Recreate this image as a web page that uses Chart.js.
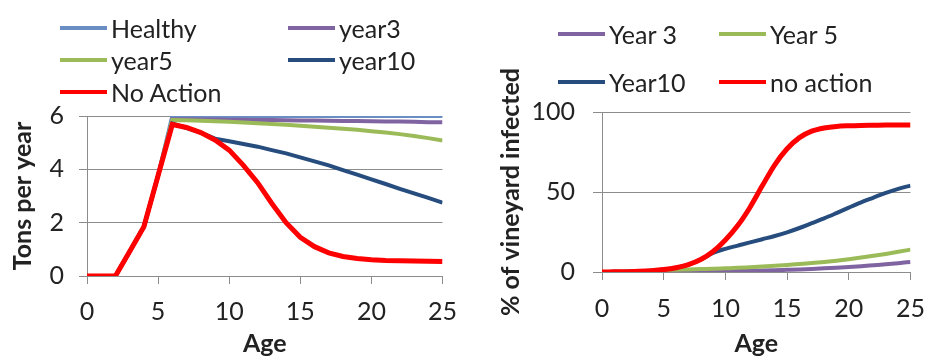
<!DOCTYPE html>
<html>
<head>
<meta charset="utf-8">
<script src="https://cdn.jsdelivr.net/npm/chart.js@4/dist/chart.umd.min.js"></script>
<style>
  body { margin: 0; background: #fff; }
  #wrap { position: relative; width: 939px; height: 356px; overflow: hidden; font-family: Lato, sans-serif; }
  canvas { position: absolute; top: 0; }
  .leg { position: absolute; height: 30px; display: flex; align-items: center; font-size: 25px; color: #222; white-space: nowrap; }
  .leg span.sw { display: inline-block; width: 47px; height: 4px; margin-right: 4px; }
</style>
</head>
<body>
<div id="wrap">
  <canvas id="tonsChart" width="470" height="356" style="left:0"></canvas>
  <canvas id="infectChart" width="469" height="356" style="left:470px"></canvas>
</div>
<script>
// ages on the x axis (both charts)
const ages = [0,1,2,3,4,5,6,7,8,9,10,11,12,13,14,15,16,17,18,19,20,21,22,23,24,25];

// left chart: tons per year
const tonsLabels = ['Healthy', 'year3', 'year5', 'year10', 'No Action'];
const healthyTons = [0,0,0,0.92,1.85,3.77,6,6,6,6,6,6,6,6,6,6,6,6,6,6,6,6,6,6,6,6];
const year3Tons = [0,0,0,0.92,1.85,3.77,5.88,5.88,5.87,5.87,5.86,5.86,5.85,5.85,5.84,5.83,5.83,5.82,5.81,5.81,5.80,5.79,5.79,5.78,5.77,5.77];
const year5Tons = [0,0,0,0.92,1.85,3.77,5.85,5.84,5.82,5.80,5.78,5.76,5.73,5.70,5.67,5.63,5.60,5.56,5.52,5.48,5.43,5.38,5.32,5.25,5.17,5.08];
const year10Tons = [0,0,0,0.92,1.85,3.77,5.72,5.55,5.38,5.15,5.05,4.95,4.85,4.72,4.60,4.45,4.30,4.15,3.97,3.80,3.62,3.45,3.27,3.10,2.93,2.75];
const noActionTons = [0,0,0,0.92,1.85,3.77,5.68,5.57,5.38,5.10,4.72,4.15,3.50,2.72,2.00,1.45,1.10,0.87,0.73,0.66,0.61,0.58,0.57,0.56,0.55,0.54];
const tonsTicks = [0, 2, 4, 6];

// right chart: % of vineyard infected
const infectLabels = ['Year 3', 'Year 5', 'Year10', 'no action'];
const year3Pct = [0,0,0.1,0.1,0.2,0.2,0.2,0.3,0.3,0.4,0.5,0.6,0.75,0.9,1.1,1.35,1.6,1.9,2.3,2.7,3.1,3.6,4.2,4.8,5.5,6.3];
const year5Pct = [0,0.1,0.2,0.4,0.8,1.2,1.4,1.6,1.8,2.0,2.3,2.6,3.0,3.4,3.9,4.4,5.0,5.6,6.3,7.1,8.0,9.0,10.1,11.3,12.6,14.0];
const year10Pct = [0,0.1,0.2,0.4,0.8,1.5,2.7,4.6,7.8,12,14.5,16.5,18.5,20.5,22.5,24.8,27.5,30.5,33.5,36.8,40.2,43.5,46.5,49.5,52,54];
const noActionPct = [0,0.1,0.2,0.4,0.8,1.5,2.7,4.6,7.8,12.8,20,29,40.5,54,67,77,84,88,90,91,91.4,91.6,91.7,91.8,91.8,91.8];
const pctTicks = [0, 50, 100];

const ageTicks = [0, 5, 10, 15, 20, 25];

const gridGray = '#8c8c8c';
const textColor = '#222';

function toPoints(values) {
  return values.map((v, i) => ({ x: ages[i], y: v }));
}

function makeDatasets(labels, seriesList, colors, widths, smooth) {
  const n = labels.length;
  return labels.map((label, i) => ({
    label: label,
    data: toPoints(seriesList[i]),
    borderColor: colors[i],
    backgroundColor: colors[i],
    borderWidth: widths[i],
    pointRadius: 0,
    tension: 0,
    cubicInterpolationMode: smooth ? 'monotone' : 'default',
    order: n - i  // later series on top, like the original
  }));
}

function makeChart(canvasId, datasets, opts) {
  const ctx = document.getElementById(canvasId).getContext('2d');
  return new Chart(ctx, {
    type: 'line',
    data: { datasets: datasets },
    options: {
      responsive: false,
      animation: false,
      layout: { padding: { top: opts.top, right: opts.right, bottom: 0, left: 0 } },
      plugins: { legend: { display: false }, tooltip: { enabled: false } },
      scales: {
        x: {
          type: 'linear',
          min: 0,
          max: 25,
          afterBuildTicks: (scale) => { scale.ticks = ageTicks.map(v => ({ value: v })); },
          afterFit: (scale) => { scale.height = opts.xHeight; },
          grid: { drawOnChartArea: false, color: gridGray, tickLength: 8 },
          border: { color: gridGray },
          ticks: { padding: opts.xPad, color: textColor, font: { family: 'Lato', size: 25 } },
          title: { display: true, text: 'Age', color: textColor, padding: 0,
                   font: { family: 'Lato', size: 25, weight: 'bold', lineHeight: 1 } }
        },
        y: {
          min: opts.yTicks[0],
          max: opts.yTicks[opts.yTicks.length - 1],
          afterBuildTicks: (scale) => { scale.ticks = opts.yTicks.map(v => ({ value: v })); },
          afterFit: (scale) => { scale.width = opts.yWidth; },
          grid: { color: gridGray, tickLength: opts.yTickLen },
          border: { color: gridGray },
          ticks: { padding: opts.yPad, color: textColor, font: { family: 'Lato', size: 25 } },
          title: { display: true, text: opts.yTitle, color: textColor, padding: { top: opts.yTitlePad, bottom: 0 },
                   font: { family: 'Lato', size: 25, weight: 'bold', lineHeight: 1 } }
        }
      }
    }
  });
}

// legend drawn as html, items laid out two per row
function buildLegend(chart, baseX, colX, rowY) {
  const wrap = document.getElementById('wrap');
  chart.data.datasets.forEach((ds, i) => {
    const item = document.createElement('div');
    item.className = 'leg';
    item.style.left = (baseX + colX[i % 2]) + 'px';
    item.style.top = (rowY[Math.floor(i / 2)] - 15) + 'px';
    item.innerHTML = '<span class="sw" style="background:' + ds.borderColor + '"></span>' + ds.label;
    wrap.appendChild(item);
  });
}

// left: straight segments (kinks at 2, 4, 6 stay sharp)
const tonsChart = makeChart('tonsChart',
  makeDatasets(tonsLabels,
    [healthyTons, year3Tons, year5Tons, year10Tons, noActionTons],
    ['#6a8ec4', '#8064a2', '#9bbb59', '#264d7e', '#ff0000'],
    [4, 4, 4, 4, 5], false),
  { top: 116, right: 15, xHeight: 80, xPad: 13, yWidth: 87, yTickLen: 8, yPad: 15,
    yTitlePad: 10, yTicks: tonsTicks, yTitle: 'Tons per year' });

const infectChart = makeChart('infectChart',
  makeDatasets(infectLabels,
    [year3Pct, year5Pct, year10Pct, noActionPct],
    ['#8064a2', '#9bbb59', '#264d7e', '#ff0000'],
    [4, 4, 4, 5], true),
  { top: 112, right: 15, xHeight: 84, xPad: 14, yWidth: 132, yTickLen: 9, yPad: 18,
    yTitlePad: 28, yTicks: pctTicks, yTitle: '% of vineyard infected' });

buildLegend(tonsChart, 0, [60, 288], [28, 60, 92]);
buildLegend(infectChart, 470, [88, 249], [34, 82]);
</script>
</body>
</html>
